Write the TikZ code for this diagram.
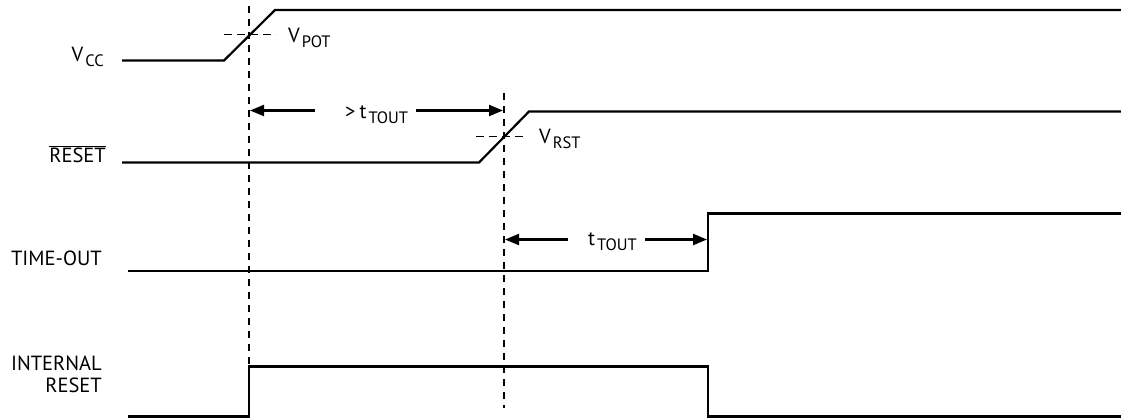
\documentclass[tikz,border=0pt]{standalone}
\usepackage{fontspec}
\setmainfont{PT Sans}
\usetikzlibrary{arrows.meta}
\newcommand\sigsub[1]{\kern2pt\raisebox{-5pt}{\fontsize{16.5}{16.5}\selectfont #1}}
\begin{document}
\begin{tikzpicture}[x=1pt,y=-1pt,
  sigline/.style={line width=2.2pt, line join=miter},
  guide/.style={line width=1.6pt, dash pattern=on 7pt off 6pt},
  thr/.style={line width=1.6pt, dash pattern=on 8pt off 5pt},
  dim/.style={line width=2.2pt, -{Triangle[length=14pt,width=11pt]}},
  lbl/.style={inner sep=0pt, font=\fontsize{20.5}{22}\selectfont}]
\useasboundingbox (0,0) rectangle (1121,418);

% key coordinates
\coordinate (g1top) at (249,6);
\coordinate (g1bot) at (249,366.5);
\coordinate (g2top) at (504,93);
\coordinate (g2bot) at (504,408);

% signals
\draw[sigline] (122,60.5) -- (224,60.5) -- (275,10) -- (1121,10);
\draw[sigline] (122,162.5) -- (479,162.5) -- (529,111.5) -- (1121,111.5);
\draw[sigline] (128,271) -- (708,271) -- (708,213.5) -- (1121,213.5);
\draw[sigline] (128,416.5) -- (249,416.5) -- (249,366.5) -- (708,366.5) -- (708,416.5) -- (1121,416.5);

% guides
\draw[guide] (g1top) -- (g1bot);
\draw[guide] (g2top) -- (g2bot);
\draw[thr] (224,34.5) -- (276,34.5);
\draw[thr] (476,136.5) -- (527,136.5);

% labels
\node[lbl, anchor=base east] (vcc) at (104,61.5) {V\sigsub{CC}};
\node[lbl, anchor=base west] (vpot) at (288,42.5) {V\sigsub{POT}};
\node[lbl, anchor=base east] (rst) at (106,162) {$\overline{\mbox{RESET}}$};
\node[lbl, anchor=base west] (gt) at (345,118) {>\kern4pt t\sigsub{TOUT}};
\node[lbl, anchor=base west] (vrst) at (539,143.3) {V\sigsub{RST}};
\node[lbl, anchor=base west] (tt) at (588,245.7) {t\sigsub{TOUT}};
\node[lbl, anchor=base east] (to) at (102,265) {TIME-OUT};
\node[lbl, anchor=base east, align=right] (ir) at (102,392) {INTERNAL\\RESET};

% dimension arrows
\coordinate (a1) at (250,110.5);
\coordinate (a2) at (503,110.5);
\coordinate (b1) at (505,239.5);
\coordinate (b2) at (707,239.5);
\draw[dim] (gt.west |- a1) ++(-30,0) -- (a1);
\draw[dim] (gt.east |- a2) ++(8,0) -- (a2);
\draw[dim] (tt.west |- b1) ++(-20,0) -- (b1);
\draw[dim] (tt.east |- b2) ++(8,0) -- (b2);
\end{tikzpicture}
\end{document}
